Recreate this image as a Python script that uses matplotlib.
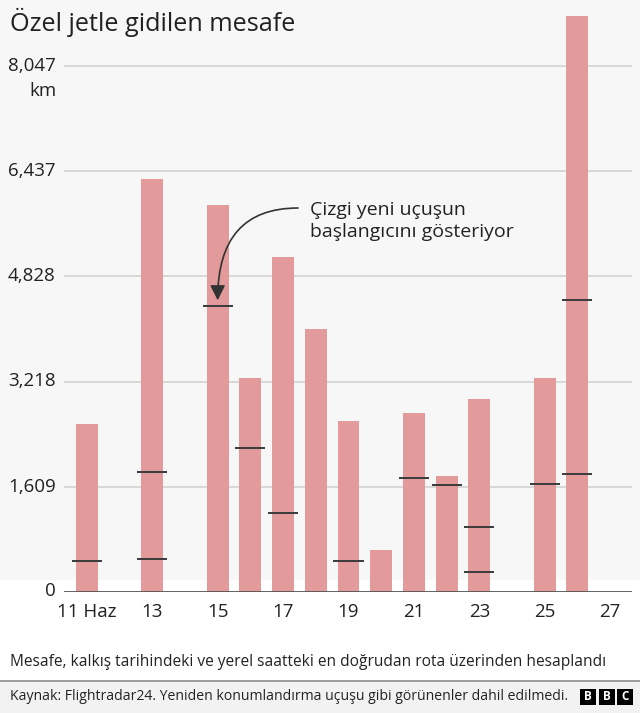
import matplotlib
matplotlib.use("Agg")
import matplotlib.pyplot as plt
from matplotlib.patches import Rectangle

plt.rcParams['font.family'] = ['Open Sans', 'DejaVu Sans']

days = [11, 13, 15, 16, 17, 18, 19, 20, 21, 22, 23, 25, 26]
totals = [2562, 6316, 5923, 3267, 5126, 4022, 2617, 641, 2731, 1770, 2955, 3267, 8814]
# positions of marks for start of a new flight (km)
start_days = [11, 13, 13, 15, 16, 17, 19, 21, 22, 23, 23, 25, 26, 26]
start_vals = [472, 1831, 498, 4370, 2194, 1203, 472, 1744, 1627, 984, 304, 1642, 1796, 4467]
yticks = [0, 1609, 3218, 4828, 6437, 8047]
ytick_labels = ["0", "1,609", "3,218", "4,828", "6,437", "8,047"]
xticks = [11, 13, 15, 17, 19, 21, 23, 25, 27]
xtick_labels = ["11 Haz", "13", "15", "17", "19", "21", "23", "25", "27"]

W, H = 640, 713
fig = plt.figure(figsize=(W / 100, H / 100), dpi=100)
fig.patch.set_facecolor('white')


def fx(px):
    return px / W


def fy(py):
    return 1 - py / H


# background panels
fig.patches.append(Rectangle((0, fy(580)), 1, 580 / H, transform=fig.transFigure,
                             facecolor='#f7f7f7', edgecolor='none', zorder=-10))
fig.patches.append(Rectangle((0, 0), 1, 32 / H, transform=fig.transFigure,
                             facecolor='#f2f2f2', edgecolor='none', zorder=-10))
fig.add_artist(plt.Line2D([0, 1], [32 / H, 32 / H], transform=fig.transFigure,
                          color='#8a8a8a', lw=1.2))

ax_left, ax_right = 64, 632
ax_bottom = 591.5
ax = fig.add_axes([ax_left / W, fy(ax_bottom), (ax_right - ax_left) / W, ax_bottom / H])
ax.set_facecolor('none')
px_per_km = 105 / 1609
ax.set_ylim(0, ax_bottom / px_per_km)
ax.set_xlim(10.30, 27.67)

for t in yticks[1:]:
    ax.axhline(t, color='#cfcfcf', lw=1.1, zorder=0)

ax.bar(days, totals, width=0.67, color='#e29a9a', zorder=2)
ax.hlines(start_vals, [d - 0.46 for d in start_days], [d + 0.46 for d in start_days],
          color='#3a3a3a', lw=1.4, zorder=3)

ax.axhline(0, color='#555555', lw=2, zorder=4)

for s in ax.spines.values():
    s.set_visible(False)
ax.set_yticks(yticks)
ax.set_yticklabels(ytick_labels)
ax.set_xticks(xticks)
ax.set_xticklabels(xtick_labels)
ax.tick_params(axis='both', length=0, labelsize=13.5, colors='#222222')
ax.tick_params(axis='y', pad=6)
ax.tick_params(axis='x', pad=8)
for lab in ax.get_yticklabels():
    lab.set_verticalalignment('center')

ax.text(-7 / (ax_right - ax_left), 8047 - 25 / px_per_km, "km", transform=ax.get_yaxis_transform(),
        ha='right', va='center', fontsize=13.5, color='#222222')

# annotation
fig.text(fx(310), fy(221), "Çizgi yeni uçuşun\nbaşlangıcını gösteriyor",
         ha='left', va='center', fontsize=14, color='#222222', linespacing=1.3)
ax.annotate("", xy=(15, 4370 + 6 / px_per_km), xycoords='data',
            xytext=(fx(298), fy(208)), textcoords='figure fraction',
            arrowprops=dict(arrowstyle='-|>,head_length=0.9,head_width=0.45', color='#333333',
                            lw=1.2, connectionstyle='angle3,angleA=0,angleB=90',
                            shrinkA=0, shrinkB=0))

fig.text(fx(10), fy(22), "Özel jetle gidilen mesafe", ha='left', va='center',
         fontsize=18.2, color='#222222')
fig.text(fx(10), fy(662), "Mesafe, kalkış tarihindeki ve yerel saatteki en doğrudan rota üzerinden hesaplandı",
         ha='left', va='center', fontsize=11.2, color='#222222')
fig.text(fx(10), fy(696), "Kaynak: Flightradar24. Yeniden konumlandırma uçuşu gibi görünenler dahil edilmedi.",
         ha='left', va='center', fontsize=10.1, color='#222222')

for i, ch in enumerate("BBC"):
    x0 = 580 + i * 18.5
    fig.patches.append(Rectangle((fx(x0), fy(705)), 16 / W, 16 / H, transform=fig.transFigure,
                                 facecolor='black', edgecolor='none'))
    fig.text(fx(x0 + 8), fy(697), ch, ha='center', va='center', fontsize=8.5,
             fontweight='bold', color='white')

fig.savefig("out.png", dpi=100)
